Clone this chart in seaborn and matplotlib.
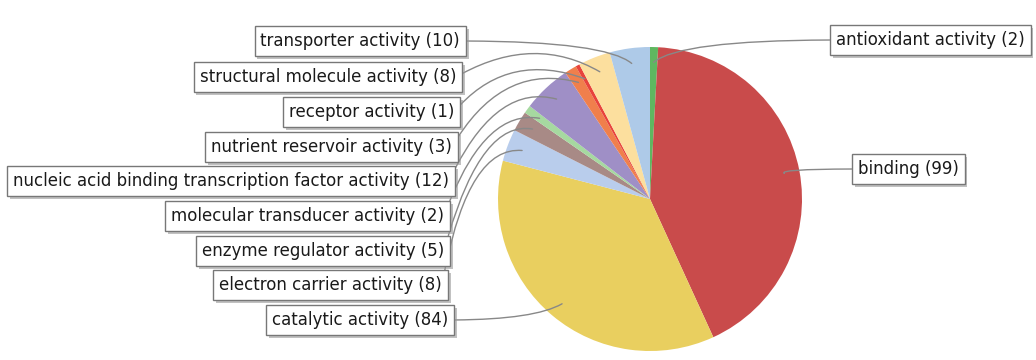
import matplotlib
matplotlib.use("Agg")
import matplotlib.pyplot as plt
import matplotlib.patheffects as pe
import numpy as np
import seaborn as sns

# slices, clockwise from 12 o'clock
categories = [
    "antioxidant activity",
    "binding",
    "catalytic activity",
    "electron carrier activity",
    "enzyme regulator activity",
    "molecular transducer activity",
    "nucleic acid binding transcription factor activity",
    "nutrient reservoir activity",
    "receptor activity",
    "structural molecule activity",
    "transporter activity",
]
counts = [2, 99, 84, 8, 5, 2, 12, 3, 1, 8, 10]
colors = ["#5fb760", "#c94b4b", "#e9cf5f", "#b9cdec", "#a88a86", "#a6d9a0",
          "#9f8fc6", "#f07f4c", "#e8433c", "#fcdf9e", "#aecae8"]

# label box placement in pixels: box edge next to the pie, box centre y
label_x = [830, 852, 454, 448, 450, 450, 455, 458, 460, 462, 466]
label_y = [40, 169, 320, 285, 251, 216, 181, 147, 112, 77, 41]
# leader line directions (degrees) at the label and at the slice
angle_a = [0, 0, 0, 80, 75, 70, 65, 60, 50, 30, 0]
angle_b = [40, -30, 30, -5, -10, -10, -15, -15, -20, -30, -40]

W, H = 1036, 360


def main():
    sns.set_theme(style="white")
    plt.rcParams["font.family"] = ["DejaVu Sans"]

    fig = plt.figure(figsize=(W / 100, H / 100), dpi=100)
    ax = fig.add_axes([0, 0, 1, 1])

    cx, cy, r = 650, H - 199, 152
    wedges, _ = ax.pie(counts, colors=colors, startangle=90, counterclock=False,
                       center=(cx, cy), radius=r, wedgeprops=dict(linewidth=0))
    ax.set_xlim(0, W)
    ax.set_ylim(0, H)
    ax.set_aspect("equal")
    ax.axis("off")

    for i, w in enumerate(wedges):
        theta = np.deg2rad((w.theta1 + w.theta2) / 2)
        anchor = (cx + 0.9 * r * np.cos(theta), cy + 0.9 * r * np.sin(theta))
        if label_x[i] > cx:
            xt, ha, relpos = label_x[i] + 6, "left", (0, 0.5)
        else:
            xt, ha, relpos = label_x[i] - 6, "right", (1, 0.5)
        ann = ax.annotate(
            f"{categories[i]} ({counts[i]})", xy=anchor, xytext=(xt, H - label_y[i]),
            ha=ha, va="center", fontsize=12, color="#1a1a1a",
            bbox=dict(boxstyle="square,pad=0.35", fc="white", ec="#777777", lw=1),
            arrowprops=dict(arrowstyle="-", color="#888888", lw=1,
                            connectionstyle=f"angle3,angleA={angle_a[i]},angleB={angle_b[i]}",
                            relpos=relpos, shrinkA=0, shrinkB=0),
        )
        ann.get_bbox_patch().set_path_effects([
            pe.withSimplePatchShadow(offset=(2, -2), shadow_rgbFace="#999999", alpha=0.6)
        ])

    fig.savefig("out.png", dpi=100)


if __name__ == "__main__":
    main()
